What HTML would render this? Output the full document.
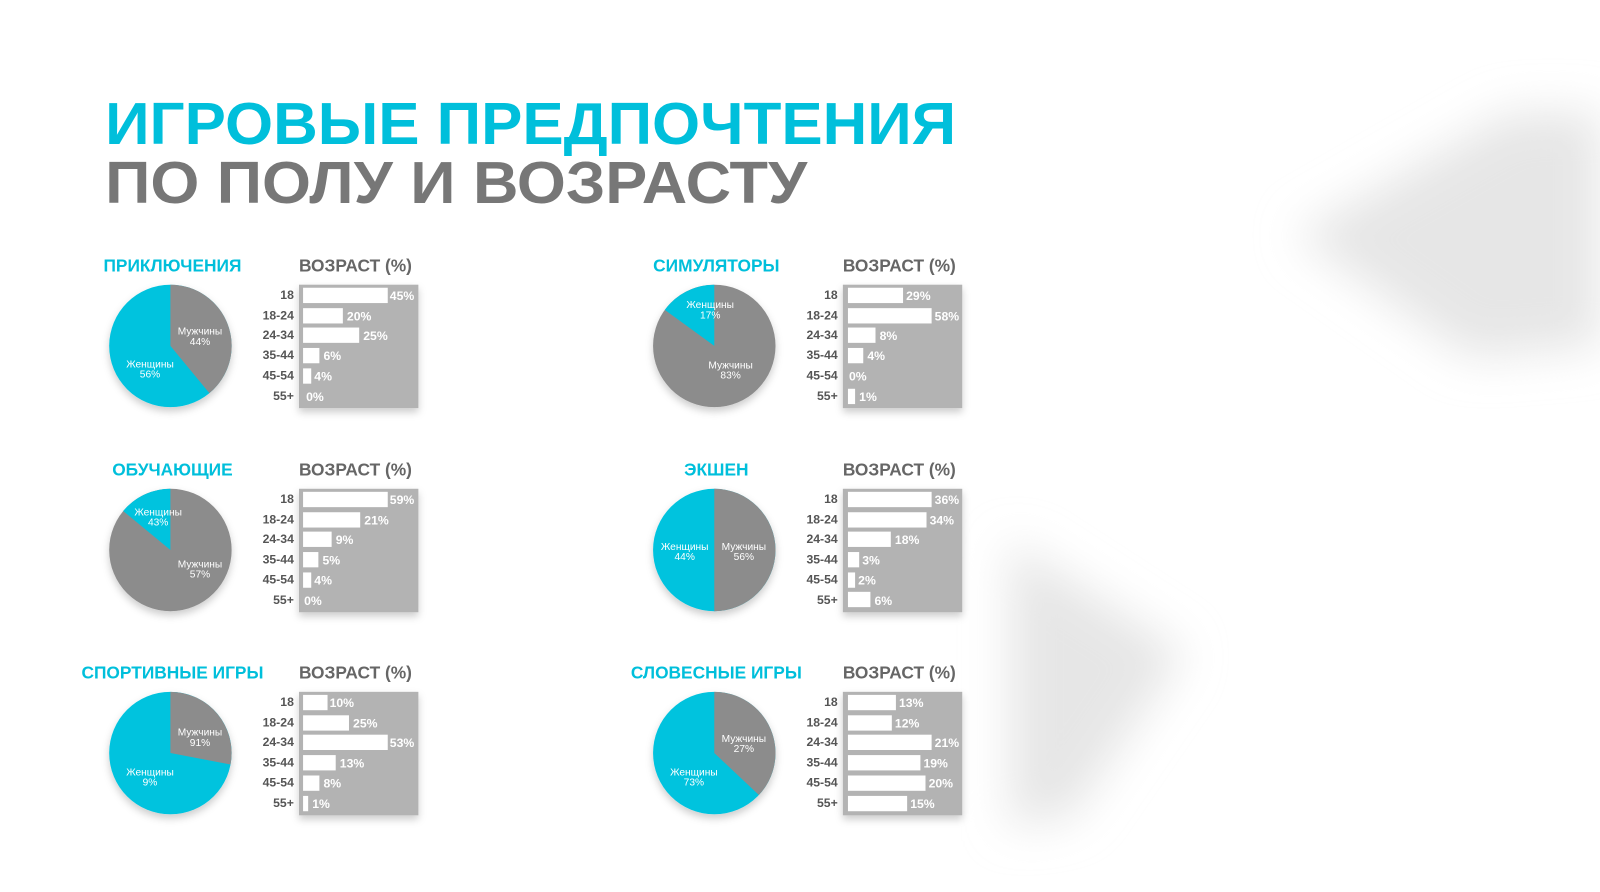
<!DOCTYPE html>
<html><head><meta charset="utf-8"><style>
html,body{margin:0;padding:0;background:#fff;}
svg{display:block;font-family:"Liberation Sans","DejaVu Sans",sans-serif;}
.t{font-weight:bold;font-size:17px;fill:#00bfdb;text-anchor:middle}
.v{font-weight:bold;font-size:17px;fill:#666}
.l{font-weight:bold;font-size:12px;fill:#555;text-anchor:end}
.p{font-weight:bold;font-size:12px;fill:#fff}
.w{font-size:10px;fill:#fff;text-anchor:middle}
</style></head><body>
<svg width="1600" height="892" viewBox="0 0 1600 892">
<defs>
<filter id="bl" x="-50%" y="-50%" width="200%" height="200%"><feGaussianBlur stdDeviation="22"/></filter>
<filter id="sh" x="-20%" y="-20%" width="140%" height="150%"><feDropShadow dx="0" dy="4" stdDeviation="4" flood-color="#000" flood-opacity="0.2"/></filter>
</defs>
<rect width="1600" height="892" fill="#fff"/>
<g transform="scale(1.0204)">
<g filter="url(#bl)" fill="#e6e6e6">
<path d="M1270,230 L1480,110 L1568,110 L1568,340 L1440,350 Z"/>
<path d="M990,530 L1160,640 L1050,800 L990,810 Z"/>
</g>
<text x="103" y="141" font-size="58" font-weight="bold" fill="#00bfdb" textLength="834" lengthAdjust="spacingAndGlyphs">ИГРОВЫЕ ПРЕДПОЧТЕНИЯ</text>
<text x="103" y="199" font-size="58" font-weight="bold" fill="#777" textLength="688" lengthAdjust="spacingAndGlyphs">ПО ПОЛУ И ВОЗРАСТУ</text>

<text class="t" x="169" y="266">ПРИКЛЮЧЕНИЯ</text>
<text class="v" x="293" y="266">ВОЗРАСТ (%)</text>
<g filter="url(#sh)"><circle cx="167" cy="339" r="60" fill="#00c3de"/><path d="M167,339 L167,279 A60,60 0 0 1 205.2,385.3 Z" fill="#8c8c8c"/></g>
<text class="w" x="196" y="328">Мужчины</text><text class="w" x="196" y="338">44%</text>
<text class="w" x="147" y="360">Женщины</text><text class="w" x="147" y="370">56%</text>
<rect x="293" y="279" width="117" height="121" fill="#b3b3b3" filter="url(#sh)"/>
<g fill="#fff"><rect x="297" y="282" width="83" height="15"/><rect x="297" y="302" width="39" height="15"/><rect x="297" y="321" width="55" height="15"/><rect x="297" y="341" width="16" height="15"/><rect x="297" y="361" width="8" height="15"/></g>
<text class="l" x="288" y="293">18</text><text class="l" x="288" y="313">18-24</text><text class="l" x="288" y="332">24-34</text><text class="l" x="288" y="352">35-44</text><text class="l" x="288" y="372">45-54</text><text class="l" x="288" y="392">55+</text>
<text class="p" x="382" y="294">45%</text><text class="p" x="340" y="314">20%</text><text class="p" x="356" y="333">25%</text><text class="p" x="317" y="353">6%</text><text class="p" x="308" y="373">4%</text><text class="p" x="300" y="393">0%</text>

<text class="t" x="702" y="266">СИМУЛЯТОРЫ</text>
<text class="v" x="826" y="266">ВОЗРАСТ (%)</text>
<g filter="url(#sh)"><circle cx="700" cy="339" r="60" fill="#8c8c8c"/><path d="M700,339 L700,279 A60,60 0 0 0 651.5,303.7 Z" fill="#00c3de"/></g>
<text class="w" x="696" y="302">Женщины</text><text class="w" x="696" y="312">17%</text>
<text class="w" x="716" y="361">Мужчины</text><text class="w" x="716" y="371">83%</text>
<rect x="826" y="279" width="117" height="121" fill="#b3b3b3" filter="url(#sh)"/>
<g fill="#fff"><rect x="831" y="282" width="54" height="15"/><rect x="831" y="302" width="82" height="15"/><rect x="831" y="321" width="27" height="15"/><rect x="831" y="341" width="15" height="15"/><rect x="831" y="381" width="7" height="15"/></g>
<text class="l" x="821" y="293">18</text><text class="l" x="821" y="313">18-24</text><text class="l" x="821" y="332">24-34</text><text class="l" x="821" y="352">35-44</text><text class="l" x="821" y="372">45-54</text><text class="l" x="821" y="392">55+</text>
<text class="p" x="888" y="294">29%</text><text class="p" x="916" y="314">58%</text><text class="p" x="862" y="333">8%</text><text class="p" x="850" y="353">4%</text><text class="p" x="832" y="373">0%</text><text class="p" x="842" y="393">1%</text>

<text class="t" x="169" y="466">ОБУЧАЮЩИЕ</text>
<text class="v" x="293" y="466">ВОЗРАСТ (%)</text>
<g filter="url(#sh)"><circle cx="167" cy="539" r="60" fill="#8c8c8c"/><path d="M167,539 L167,479 A60,60 0 0 0 120.7,500.8 Z" fill="#00c3de"/></g>
<text class="w" x="155" y="505">Женщины</text><text class="w" x="155" y="515">43%</text>
<text class="w" x="196" y="556">Мужчины</text><text class="w" x="196" y="566">57%</text>
<rect x="293" y="479" width="117" height="121" fill="#b3b3b3" filter="url(#sh)"/>
<g fill="#fff"><rect x="297" y="482" width="83" height="15"/><rect x="297" y="502" width="56" height="15"/><rect x="297" y="521" width="28" height="15"/><rect x="297" y="541" width="15" height="15"/><rect x="297" y="561" width="8" height="15"/></g>
<text class="l" x="288" y="493">18</text><text class="l" x="288" y="513">18-24</text><text class="l" x="288" y="532">24-34</text><text class="l" x="288" y="552">35-44</text><text class="l" x="288" y="572">45-54</text><text class="l" x="288" y="592">55+</text>
<text class="p" x="382" y="494">59%</text><text class="p" x="357" y="514">21%</text><text class="p" x="329" y="533">9%</text><text class="p" x="316" y="553">5%</text><text class="p" x="308" y="573">4%</text><text class="p" x="298" y="593">0%</text>

<text class="t" x="702" y="466">ЭКШЕН</text>
<text class="v" x="826" y="466">ВОЗРАСТ (%)</text>
<g filter="url(#sh)"><circle cx="700" cy="539" r="60" fill="#00c3de"/><path d="M700,539 L700,479 A60,60 0 0 1 700,599 Z" fill="#8c8c8c"/></g>
<text class="w" x="729" y="539">Мужчины</text><text class="w" x="729" y="549">56%</text>
<text class="w" x="671" y="539">Женщины</text><text class="w" x="671" y="549">44%</text>
<rect x="826" y="479" width="117" height="121" fill="#b3b3b3" filter="url(#sh)"/>
<g fill="#fff"><rect x="831" y="482" width="82" height="15"/><rect x="831" y="502" width="77" height="15"/><rect x="831" y="521" width="42" height="15"/><rect x="831" y="541" width="11" height="15"/><rect x="831" y="561" width="7" height="15"/><rect x="831" y="580" width="22" height="15"/></g>
<text class="l" x="821" y="493">18</text><text class="l" x="821" y="513">18-24</text><text class="l" x="821" y="532">24-34</text><text class="l" x="821" y="552">35-44</text><text class="l" x="821" y="572">45-54</text><text class="l" x="821" y="592">55+</text>
<text class="p" x="916" y="494">36%</text><text class="p" x="911" y="514">34%</text><text class="p" x="877" y="533">18%</text><text class="p" x="845" y="553">3%</text><text class="p" x="841" y="573">2%</text><text class="p" x="857" y="593">6%</text>

<text class="t" x="169" y="665">СПОРТИВНЫЕ ИГРЫ</text>
<text class="v" x="293" y="665">ВОЗРАСТ (%)</text>
<g filter="url(#sh)"><circle cx="167" cy="738" r="60" fill="#00c3de"/><path d="M167,738 L167,678 A60,60 0 0 1 225.9,749.2 Z" fill="#8c8c8c"/></g>
<text class="w" x="196" y="721">Мужчины</text><text class="w" x="196" y="731">91%</text>
<text class="w" x="147" y="760">Женщины</text><text class="w" x="147" y="770">9%</text>
<rect x="293" y="678" width="117" height="121" fill="#b3b3b3" filter="url(#sh)"/>
<g fill="#fff"><rect x="297" y="681" width="24" height="15"/><rect x="297" y="701" width="45" height="15"/><rect x="297" y="720" width="83" height="15"/><rect x="297" y="740" width="32" height="15"/><rect x="297" y="760" width="16" height="15"/><rect x="297" y="780" width="5" height="15"/></g>
<text class="l" x="288" y="692">18</text><text class="l" x="288" y="712">18-24</text><text class="l" x="288" y="731">24-34</text><text class="l" x="288" y="751">35-44</text><text class="l" x="288" y="771">45-54</text><text class="l" x="288" y="791">55+</text>
<text class="p" x="323" y="693">10%</text><text class="p" x="346" y="713">25%</text><text class="p" x="382" y="732">53%</text><text class="p" x="333" y="752">13%</text><text class="p" x="317" y="772">8%</text><text class="p" x="306" y="792">1%</text>

<text class="t" x="702" y="665">СЛОВЕСНЫЕ ИГРЫ</text>
<text class="v" x="826" y="665">ВОЗРАСТ (%)</text>
<g filter="url(#sh)"><circle cx="700" cy="738" r="60" fill="#00c3de"/><path d="M700,738 L700,678 A60,60 0 0 1 743.7,779.1 Z" fill="#8c8c8c"/></g>
<text class="w" x="729" y="727">Мужчины</text><text class="w" x="729" y="737">27%</text>
<text class="w" x="680" y="760">Женщины</text><text class="w" x="680" y="770">73%</text>
<rect x="826" y="678" width="117" height="121" fill="#b3b3b3" filter="url(#sh)"/>
<g fill="#fff"><rect x="831" y="681" width="47" height="15"/><rect x="831" y="701" width="43" height="15"/><rect x="831" y="720" width="82" height="15"/><rect x="831" y="740" width="71" height="15"/><rect x="831" y="760" width="76" height="15"/><rect x="831" y="780" width="58" height="15"/></g>
<text class="l" x="821" y="692">18</text><text class="l" x="821" y="712">18-24</text><text class="l" x="821" y="731">24-34</text><text class="l" x="821" y="751">35-44</text><text class="l" x="821" y="771">45-54</text><text class="l" x="821" y="791">55+</text>
<text class="p" x="881" y="693">13%</text><text class="p" x="877" y="713">12%</text><text class="p" x="916" y="732">21%</text><text class="p" x="905" y="752">19%</text><text class="p" x="910" y="772">20%</text><text class="p" x="892" y="792">15%</text>
</g>
</svg>
</body></html>
